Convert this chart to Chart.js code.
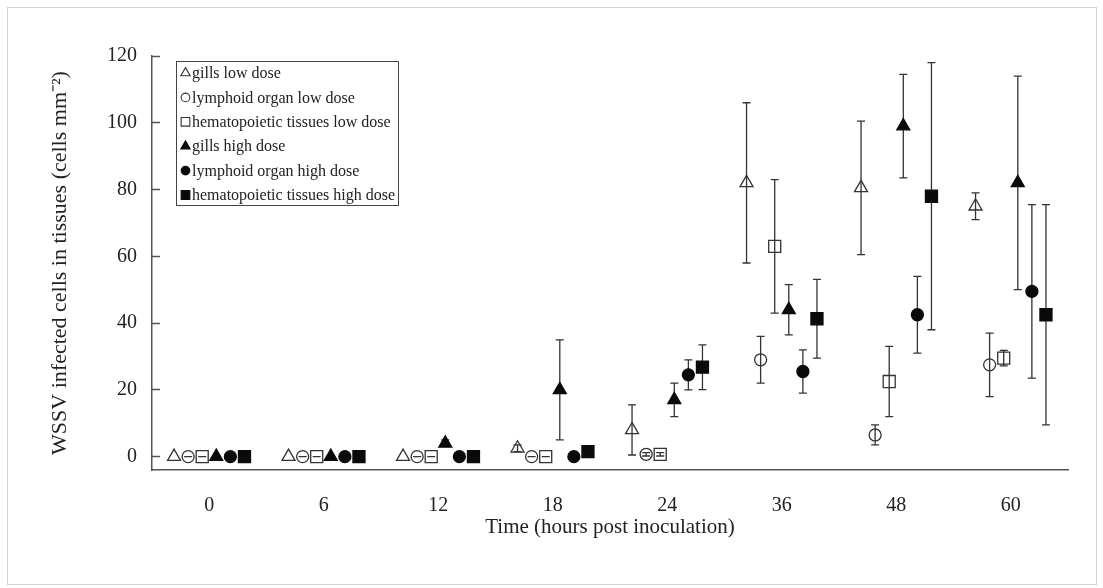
<!DOCTYPE html>
<html>
<head>
<meta charset="utf-8">
<title>WSSV infected cells in tissues</title>
<script src="https://cdn.jsdelivr.net/npm/chart.js@4.4.1/dist/chart.umd.min.js"></script>
<style>
  body { margin: 0; background: #fff; }
  #wrap { position: relative; width: 1103px; height: 588px; }
  #frame { position: absolute; left: 7px; top: 7px; width: 1090px; height: 578px; border: 1px solid #d4d4d4; box-sizing: border-box; }
  #chart { position: absolute; left: 0; top: 0; }
</style>
</head>
<body>
<div id="wrap">
  <div id="frame"></div>
  <canvas id="chart" width="1103" height="588"></canvas>
</div>
<script>
const times = ["0", "6", "12", "18", "24", "36", "48", "60"];
const yTicks = [0, 20, 40, 60, 80, 100, 120];

// means and error bars (cells mm-2)
const gillsLow = [0, 0, 0, 2.5, 8, 82, 80.5, 75];
const gillsLowErr = [null, null, null, 1, 7.5, 24, 20, 4];
const lymphLow = [0, 0, 0, 0, 0.7, 29, 6.5, 27.5];
const lymphLowErr = [0, 0, 0, 0, 0.5, 7, 3, 9.5];
const hemaLow = [0, 0, 0, 0, 0.7, 63, 22.5, 29.5];
const hemaLowErr = [0, 0, 0, 0, 0.5, 20, 10.5, 2.3];
const gillsHigh = [0, 0, 4, 20, 17, 44, 99, 82];
const gillsHighErr = [0, 0, 1, 15, 5, 7.5, 15.5, 32];
const lymphHigh = [0, 0, 0, 0, 24.5, 25.5, 42.5, 49.5];
const lymphHighErr = [0, 0, 0, 0, 4.5, 6.5, 11.5, 26];
const hemaHigh = [0, 0, 0, 1.5, 26.8, 41.3, 78, 42.5];
const hemaHighErr = [0, 0, 0, 0.5, 6.7, 11.8, 40, 33];

const series = [
  { label: "gills low dose", values: gillsLow, errors: gillsLowErr, style: "triangle", filled: false },
  { label: "lymphoid organ low dose", values: lymphLow, errors: lymphLowErr, style: "circle", filled: false },
  { label: "hematopoietic tissues low dose", values: hemaLow, errors: hemaLowErr, style: "rect", filled: false },
  { label: "gills high dose", values: gillsHigh, errors: gillsHighErr, style: "triangle", filled: true },
  { label: "lymphoid organ high dose", values: lymphHigh, errors: lymphHighErr, style: "circle", filled: true },
  { label: "hematopoietic tissues high dose", values: hemaHigh, errors: hemaHighErr, style: "rect", filled: true },
];

const serif = "'Liberation Serif', 'Times New Roman', serif";
const inkColor = "#222";
const axisColor = "#555";
const groupStep = 0.123; // spacing of the six markers inside one time group
const radius = { triangle: 7.5, circle: 6, rect: 8.5 };

const datasets = series.map((s, k) => ({
  label: s.label,
  data: s.values.map((v, i) => ({ x: i + (k - 2.5) * groupStep, y: v })),
  errors: s.errors,
  showLine: false,
  pointStyle: s.style,
  pointRadius: radius[s.style],
  pointHoverRadius: radius[s.style],
  backgroundColor: s.filled ? "#0a0a0a" : "rgba(255,255,255,0)",
  borderColor: s.filled ? "#0a0a0a" : "#333",
  borderWidth: 1.3,
}));

// error bars go under the markers; open markers are see-through like the figure
const errorBars = {
  id: "errorBars",
  beforeDatasetsDraw(chart) {
    const ctx = chart.ctx;
    const y = chart.scales.y;
    ctx.save();
    ctx.strokeStyle = "#333";
    ctx.lineWidth = 1.3;
    chart.data.datasets.forEach((ds, i) => {
      const meta = chart.getDatasetMeta(i);
      ds.errors.forEach((e, j) => {
        if (e === null) return;
        const px = meta.data[j].x;
        const v = ds.data[j].y;
        const top = y.getPixelForValue(v + e);
        const bot = y.getPixelForValue(v - e);
        ctx.beginPath();
        ctx.moveTo(px, top);
        ctx.lineTo(px, bot);
        ctx.moveTo(px - 4, top);
        ctx.lineTo(px + 4, top);
        ctx.moveTo(px - 4, bot);
        ctx.lineTo(px + 4, bot);
        ctx.stroke();
      });
    });
    ctx.restore();
  },
};

const legendBox = {
  id: "legendBox",
  afterDraw(chart) {
    const ctx = chart.ctx;
    const area = chart.chartArea;
    const left = area.left + 24;
    const top = area.top + 5;
    ctx.save();
    ctx.strokeStyle = "#444";
    ctx.lineWidth = 1;
    ctx.strokeRect(left + 0.5, top + 0.5, 222, 144);
    ctx.font = "16px " + serif;
    ctx.textBaseline = "middle";
    chart.data.datasets.forEach((ds, i) => {
      const cy = top + 12 + i * 24.4;
      ctx.fillStyle = ds.backgroundColor;
      ctx.strokeStyle = ds.borderColor;
      ctx.lineWidth = 1.1;
      Chart.helpers.drawPoint(ctx, {
        pointStyle: ds.pointStyle,
        radius: ds.pointRadius * 0.72,
        rotation: 0,
        borderWidth: 1.1,
      }, left + 9.5, cy);
      ctx.fillStyle = inkColor;
      ctx.fillText(ds.label, left + 16, cy + 1);
    });
    ctx.restore();
  },
};

const chart = new Chart(document.getElementById("chart"), {
  type: "scatter",
  data: { datasets: datasets },
  plugins: [errorBars, legendBox],
  options: {
    responsive: false,
    animation: false,
    devicePixelRatio: 1,
    layout: { padding: { top: 56, right: 35, bottom: 0, left: 0 } },
    plugins: {
      legend: { display: false },
      tooltip: { enabled: false },
    },
    scales: {
      x: {
        type: "linear",
        min: -0.5,
        max: 7.5,
        afterBuildTicks: (scale) => {
          scale.ticks = times.map((t, i) => ({ value: i }));
        },
        afterFit: (scale) => {
          scale.height = 118;
        },
        grid: { display: false },
        border: { display: true, color: axisColor, width: 1.5 },
        ticks: {
          autoSkip: false,
          maxRotation: 0,
          padding: 16,
          color: inkColor,
          font: { family: serif, size: 20 },
          callback: (v) => times[v],
        },
        title: {
          display: true,
          text: "Time (hours post inoculation)",
          color: inkColor,
          font: { family: serif, size: 21 },
          padding: { top: 0, bottom: 48 },
        },
      },
      y: {
        min: -4,
        max: 120,
        afterBuildTicks: (scale) => {
          scale.ticks = yTicks.map((v) => ({ value: v }));
        },
        afterFit: (scale) => {
          scale.width = 152;
        },
        grid: {
          drawOnChartArea: false,
          drawTicks: true,
          tickLength: -8,
          tickColor: axisColor,
          tickWidth: 1.5,
        },
        border: { display: true, color: axisColor, width: 1.5 },
        ticks: {
          padding: 23,
          color: inkColor,
          font: { family: serif, size: 20 },
        },
        title: {
          display: true,
          text: "WSSV infected cells in tissues (cells mm\u207B\u00B2)",
          color: inkColor,
          font: { family: serif, size: 22 },
          padding: { top: 47, bottom: 0 },
        },
      },
    },
  },
});
</script>
</body>
</html>
